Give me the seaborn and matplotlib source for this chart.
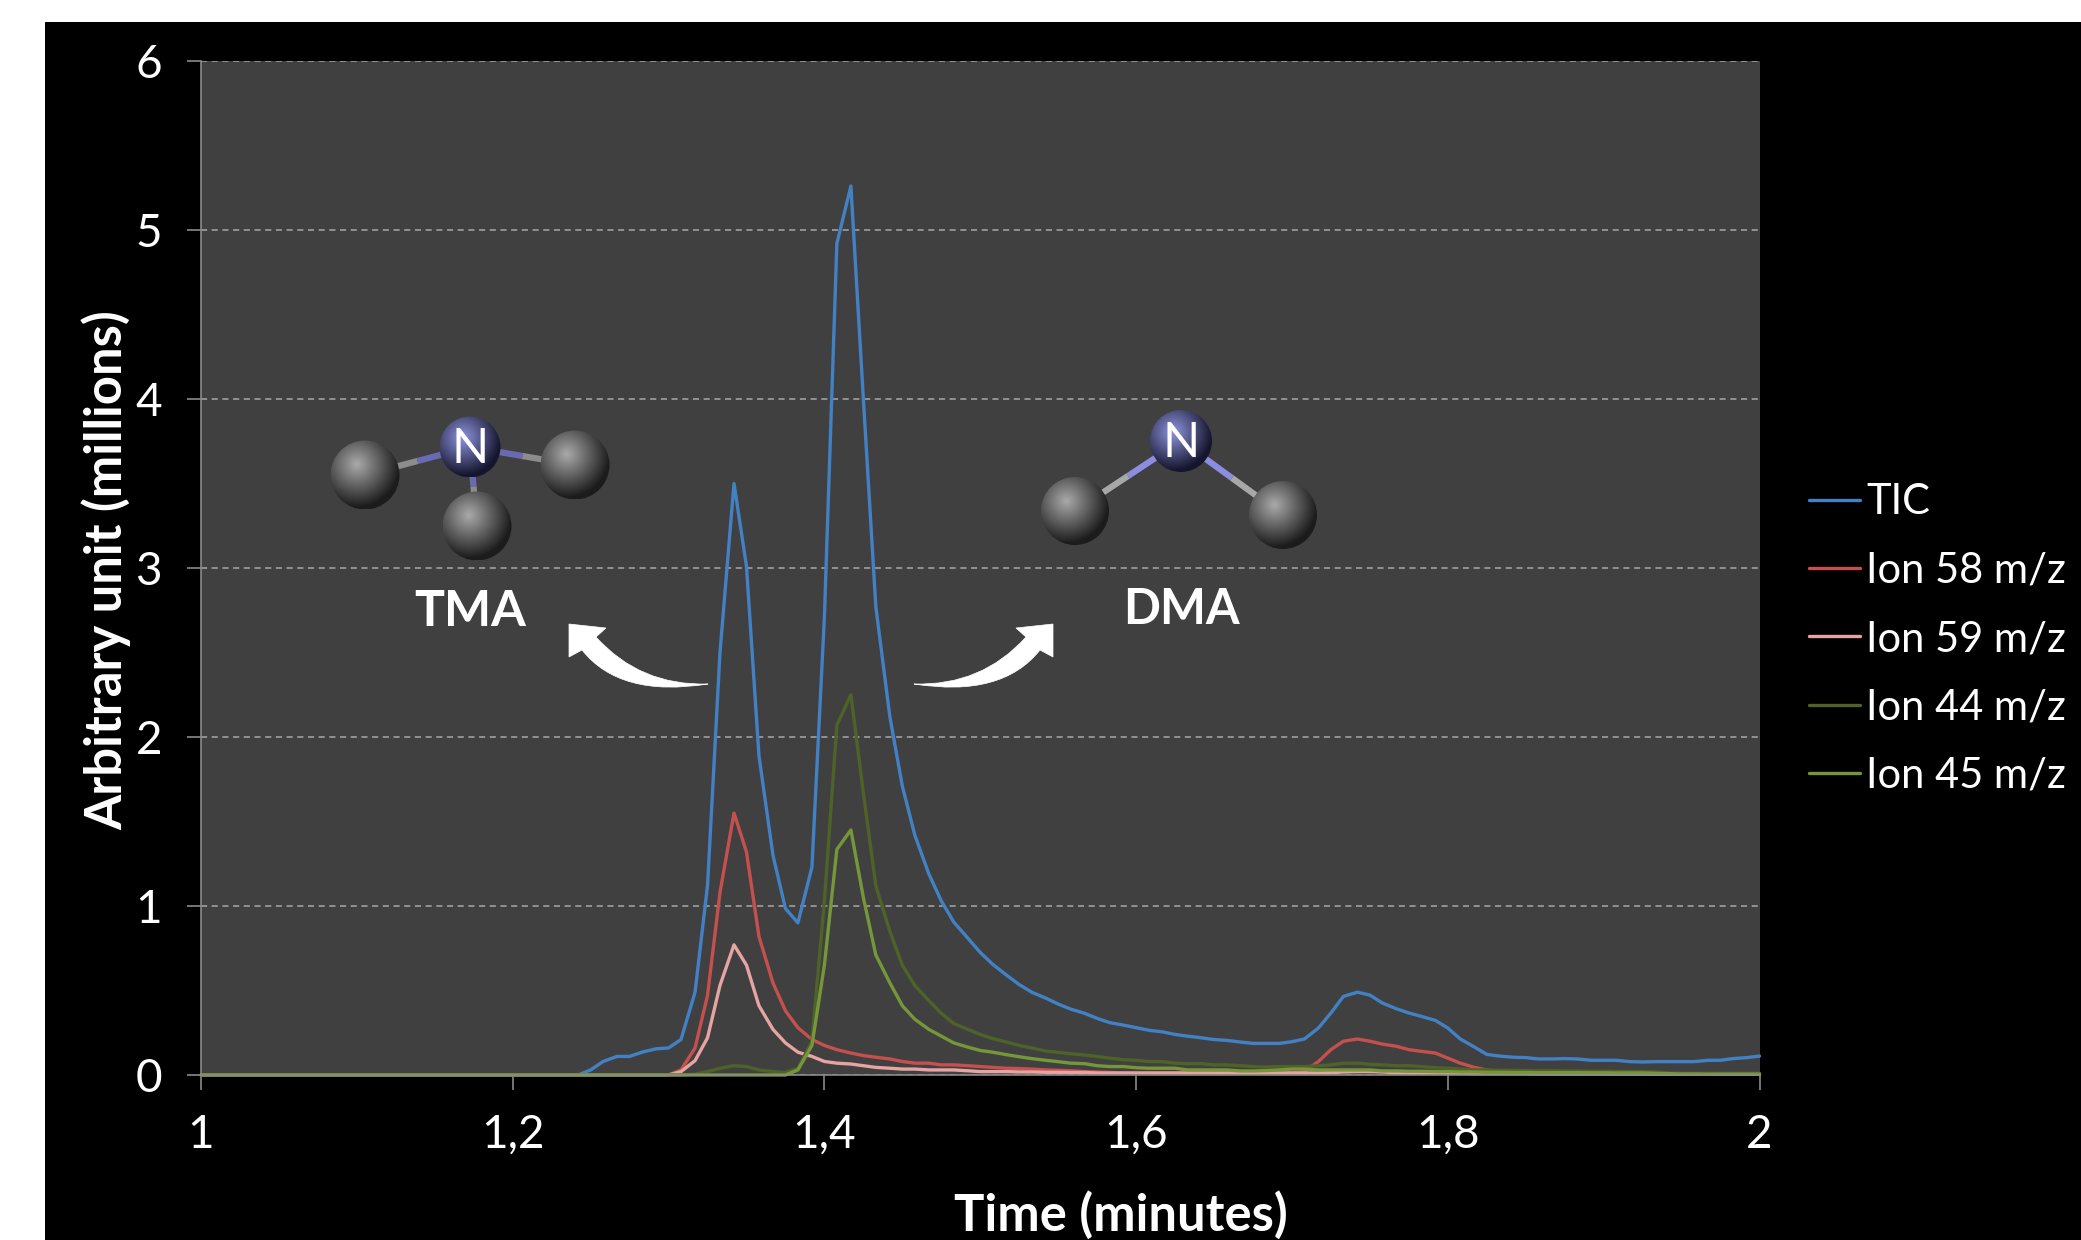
import numpy as np
import pandas as pd
import matplotlib
matplotlib.use("Agg")
import matplotlib.pyplot as plt
import seaborn as sns
from matplotlib.patches import Rectangle, PathPatch, Circle
from matplotlib.path import Path

W, H = 2081, 1240

# one scan every half second, minutes
time_min = [
    1.000, 1.008, 1.017, 1.025, 1.033, 1.042, 1.050, 1.058, 1.067, 1.075, 1.083, 1.092,
    1.100, 1.108, 1.117, 1.125, 1.133, 1.142, 1.150, 1.158, 1.167, 1.175, 1.183, 1.192,
    1.200, 1.208, 1.217, 1.225, 1.233, 1.242, 1.250, 1.258, 1.267, 1.275, 1.283, 1.292,
    1.300, 1.308, 1.317, 1.325, 1.333, 1.342, 1.350, 1.358, 1.367, 1.375, 1.383, 1.392,
    1.400, 1.408, 1.417, 1.425, 1.433, 1.442, 1.450, 1.458, 1.467, 1.475, 1.483, 1.492,
    1.500, 1.508, 1.517, 1.525, 1.533, 1.542, 1.550, 1.558, 1.567, 1.575, 1.583, 1.592,
    1.600, 1.608, 1.617, 1.625, 1.633, 1.642, 1.650, 1.658, 1.667, 1.675, 1.683, 1.692,
    1.700, 1.708, 1.717, 1.725, 1.733, 1.742, 1.750, 1.758, 1.767, 1.775, 1.783, 1.792,
    1.800, 1.808, 1.817, 1.825, 1.833, 1.842, 1.850, 1.858, 1.867, 1.875, 1.883, 1.892,
    1.900, 1.908, 1.917, 1.925, 1.933, 1.942, 1.950, 1.958, 1.967, 1.975, 1.983, 1.992,
    2.000,
]

tic = [
    0, 0, 0, 0, 0, 0, 0, 0, 0, 0,
    0, 0, 0, 0, 0, 0, 0, 0, 0, 0,
    0, 0, 0, 0, 0, 0, 0, 0, 0, 0,
    .03, .08, .11, .11, .135, .155, .16, .21, .49, 1.12,
    2.50, 3.50, 3.01, 1.89, 1.30, .985, .90, 1.23, 2.71, 4.92,
    5.26, 4.00, 2.77, 2.12, 1.71, 1.42, 1.19, 1.03, .905, .81,
    .725, .655, .59, .535, .49, .455, .42, .39, .365, .335,
    .31, .295, .28, .265, .255, .24, .23, .22, .21, .205,
    .195, .187, .187, .187, .197, .213, .278, .367, .465, .49,
    .473, .426, .392, .367, .347, .323, .278, .213, .166, .122,
    .112, .105, .103, .095, .095, .097, .095, .087, .087, .087,
    .079, .077, .079, .079, .079, .079, .087, .087, .097, .103,
    .112,
]

ion58 = [
    0, 0, 0, 0, 0, 0, 0, 0, 0, 0,
    0, 0, 0, 0, 0, 0, 0, 0, 0, 0,
    0, 0, 0, 0, 0, 0, 0, 0, 0, 0,
    0, 0, 0, 0, 0, 0, 0, .03, .16, .47,
    1.08, 1.55, 1.32, .82, .545, .38, .28, .21, .175, .15,
    .13, .115, .105, .095, .08, .07, .07, .06, .06, .055,
    .05, .045, .04, .038, .035, .03, .028, .025, .02, .018,
    .015, .012, .012, .012, .012, .012, .012, .012, .012, .012,
    .012, .012, .012, .012, .012, .02, .08, .15, .20, .213,
    .20, .183, .17, .15, .14, .13, .10, .07, .045, .03,
    .02, .02, .018, .015, .015, .012, .012, .012, .01, .01,
    .01, .008, .008, .008, .008, .006, .006, .006, .005, .005,
    .005,
]

ion59 = [
    0, 0, 0, 0, 0, 0, 0, 0, 0, 0,
    0, 0, 0, 0, 0, 0, 0, 0, 0, 0,
    0, 0, 0, 0, 0, 0, 0, 0, 0, 0,
    0, 0, 0, 0, 0, 0, 0, .02, .085, .22,
    .53, .77, .65, .41, .27, .19, .135, .11, .08, .07,
    .065, .055, .045, .04, .035, .035, .03, .03, .03, .025,
    .02, .02, .02, .018, .018, .016, .016, .015, .015, .012,
    .012, .012, .012, .012, .012, .012, .012, .012, .012, .012,
    .012, .012, .012, .012, .012, .012, .012, .014, .018, .02,
    .02, .018, .012, .012, .012, .012, .01, .01, .008, .008,
    .008, .008, .008, .006, .006, .006, .006, .006, .006, .005,
    .005, .005, .005, .004, .004, .004, .004, .004, .004, .004,
    .004,
]

ion44 = [
    0, 0, 0, 0, 0, 0, 0, 0, 0, 0,
    0, 0, 0, 0, 0, 0, 0, 0, 0, 0,
    0, 0, 0, 0, 0, 0, 0, 0, 0, 0,
    0, 0, 0, 0, 0, 0, 0, 0, .005, .02,
    .04, .055, .05, .03, .02, .015, .04, .20, 1.03, 2.07,
    2.25, 1.67, 1.12, .85, .65, .53, .44, .365, .305, .27,
    .24, .215, .195, .175, .16, .142, .134, .126, .118, .11,
    .10, .09, .087, .08, .079, .07, .067, .067, .06, .06,
    .055, .05, .047, .05, .05, .05, .055, .06, .07, .07,
    .063, .06, .055, .055, .05, .043, .04, .035, .03, .03,
    .028, .027, .026, .025, .025, .024, .023, .022, .022, .021,
    .02, .02, .018, .012, .01, .01, .01, .01, .01, .01,
    .01,
]

ion45 = [
    0, 0, 0, 0, 0, 0, 0, 0, 0, 0,
    0, 0, 0, 0, 0, 0, 0, 0, 0, 0,
    0, 0, 0, 0, 0, 0, 0, 0, 0, 0,
    0, 0, 0, 0, 0, 0, 0, 0, 0, 0,
    0, 0, 0, 0, 0, 0, .03, .175, .65, 1.335,
    1.45, 1.05, .71, .545, .41, .33, .27, .23, .19, .165,
    .145, .135, .12, .108, .097, .087, .079, .07, .067, .055,
    .05, .05, .043, .04, .04, .04, .03, .03, .03, .03,
    .024, .024, .026, .03, .035, .035, .03, .03, .03, .03,
    .03, .024, .024, .022, .022, .02, .02, .018, .018, .016,
    .016, .015, .015, .014, .014, .014, .014, .013, .013, .012,
    .012, .012, .01, .008, .006, .006, .005, .005, .005, .005,
    .005,
]

series_names = ["TIC", "Ion 58 m/z", "Ion 59 m/z", "Ion 44 m/z", "Ion 45 m/z"]
series_colors = ["#4281c4", "#c5504e", "#e6a4a2", "#4f6228", "#76963a"]
x_ticks = [1, 1.2, 1.4, 1.6, 1.8, 2]
x_tick_labels = ["1", "1,2", "1,4", "1,6", "1,8", "2"]
y_ticks = [0, 1, 2, 3, 4, 5, 6]

df = pd.DataFrame({"time": time_min, "TIC": tic, "Ion 58 m/z": ion58, "Ion 59 m/z": ion59,
                   "Ion 44 m/z": ion44, "Ion 45 m/z": ion45})
long_df = df.melt(id_vars="time", var_name="series", value_name="signal")

sns.set_style("dark")
plt.rcParams["font.family"] = ["Lato", "DejaVu Sans"]

fig = plt.figure(figsize=(W / 100, H / 100), dpi=100, facecolor="black")
ax = fig.add_axes([201 / W, 1 - 1075 / H, (1759.5 - 201) / W, (1075 - 61) / H], facecolor="#404040")

sns.lineplot(data=long_df, x="time", y="signal", hue="series", hue_order=series_names,
             palette=series_colors, estimator=None, linewidth=2.4, ax=ax, clip_on=False)

ax.set_xlim(1, 2)
ax.set_ylim(0, 6)
ax.set_xticks(x_ticks)
ax.set_xticklabels(x_tick_labels)
ax.set_yticks(y_ticks)
ax.tick_params(axis="x", colors="white", labelsize=33, length=11, width=1.2, color="#8a8a8a", pad=17, bottom=True)
ax.tick_params(axis="y", colors="white", labelsize=33, length=10, width=1.2, color="#8a8a8a", pad=18, left=True)
ax.yaxis.grid(True, color="#a8a8a8", linestyle=(0, (4, 3)), linewidth=1.1)
ax.xaxis.grid(False)
ax.set_axisbelow(True)
for side in ["top", "right"]:
    ax.spines[side].set_visible(False)
for side in ["left", "bottom"]:
    ax.spines[side].set_color("#8a8a8a")
    ax.spines[side].set_linewidth(1.2)
ax.set_xlabel("")
ax.set_ylabel("")

handles, labels = ax.get_legend_handles_labels()
ax.legend(handles, labels, frameon=False, fontsize=30, labelcolor="white",
          loc="center left", bbox_to_anchor=((1809 - 201) / (1759.5 - 201), 1 - (639 - 61) / (1075 - 61)),
          handlelength=1.22, handletextpad=0.16, labelspacing=0.73, borderpad=0, borderaxespad=0)

# pixel space overlay for the slide decoration
over = fig.add_axes([0, 0, 1, 1], facecolor="none")
over.set_axis_off()
over.add_patch(Rectangle((0, 0), W, 22, color="white", lw=0))
over.add_patch(Rectangle((0, 0), 45, H, color="white", lw=0))


def sphere(cx, cy, r, light, dark):
    n = 120
    yy, xx = np.mgrid[-1:1:n * 1j, -1:1:n * 1j]
    d = np.clip(np.hypot(xx + 0.25, yy + 0.3) / 1.25, 0, 1)[..., None]
    rgb = np.array(matplotlib.colors.to_rgb(light)) * (1 - d) + np.array(matplotlib.colors.to_rgb(dark)) * d
    im = over.imshow(rgb, extent=[cx - r, cx + r, cy + r, cy - r], interpolation="bilinear", aspect="auto", zorder=3)
    im.set_clip_path(Circle((cx, cy), r, transform=over.transData))


def bond(n_xy, c_xy, purple, grey):
    mx, my = (n_xy[0] + c_xy[0]) / 2, (n_xy[1] + c_xy[1]) / 2
    over.plot([n_xy[0], mx], [n_xy[1], my], color=purple, lw=4.5, solid_capstyle="butt", zorder=2)
    over.plot([mx, c_xy[0]], [my, c_xy[1]], color=grey, lw=4.5, solid_capstyle="butt", zorder=2)


C_LIGHT, C_DARK = "#aaaaaa", "#1c1c1c"
N_LIGHT, N_DARK = "#8f94de", "#15162e"

tma_n = (470, 447)
for c in [(365, 475), (575, 465), (477, 526)]:
    bond(tma_n, c, "#6a6ab4", "#8c8c8c")
    sphere(c[0], c[1], 34.5, C_LIGHT, C_DARK)
sphere(tma_n[0], tma_n[1], 30.5, N_LIGHT, N_DARK)

dma_n = (1181, 441)
for c in [(1075, 511), (1283, 515)]:
    bond(dma_n, c, "#8c8ce0", "#a8a8a8")
    sphere(c[0], c[1], 34, C_LIGHT, C_DARK)
sphere(dma_n[0], dma_n[1], 31, N_LIGHT, N_DARK)

over.text(470, 449, "N", color="white", fontsize=35, ha="center", va="center", zorder=4)
over.text(1181, 443, "N", color="white", fontsize=35, ha="center", va="center", zorder=4)
over.text(470, 612, "TMA", color="white", fontsize=36, fontweight="bold", ha="center", va="center", zorder=4)
over.text(1181, 610, "DMA", color="white", fontsize=35, fontweight="bold", ha="center", va="center", zorder=4)


def curved_arrow(flip=False):
    pts = [(708, 684), (640, 686), (596, 637), (606, 628), (569, 624), (569, 657), (582, 650), (620, 698), (708, 684)]
    codes = [Path.MOVETO, Path.CURVE3, Path.CURVE3, Path.LINETO, Path.LINETO, Path.LINETO, Path.LINETO,
             Path.CURVE3, Path.CURVE3]
    if flip:
        pts = [(1622 - x, y) for x, y in pts]
    over.add_patch(PathPatch(Path(pts, codes), facecolor="white", edgecolor="white", lw=0.5, zorder=2))


curved_arrow()
curved_arrow(flip=True)

over.text(1121, 1215, "Time (minutes)", color="white", fontsize=36.5, fontweight="bold", ha="center", va="center")
over.text(106, 570, "Arbitrary unit (millions)", color="white", fontsize=36.5, fontweight="bold",
          rotation=90, ha="center", va="center")

over.set_xlim(0, W)
over.set_ylim(H, 0)

fig.savefig("out.png", dpi=100, facecolor="black")
